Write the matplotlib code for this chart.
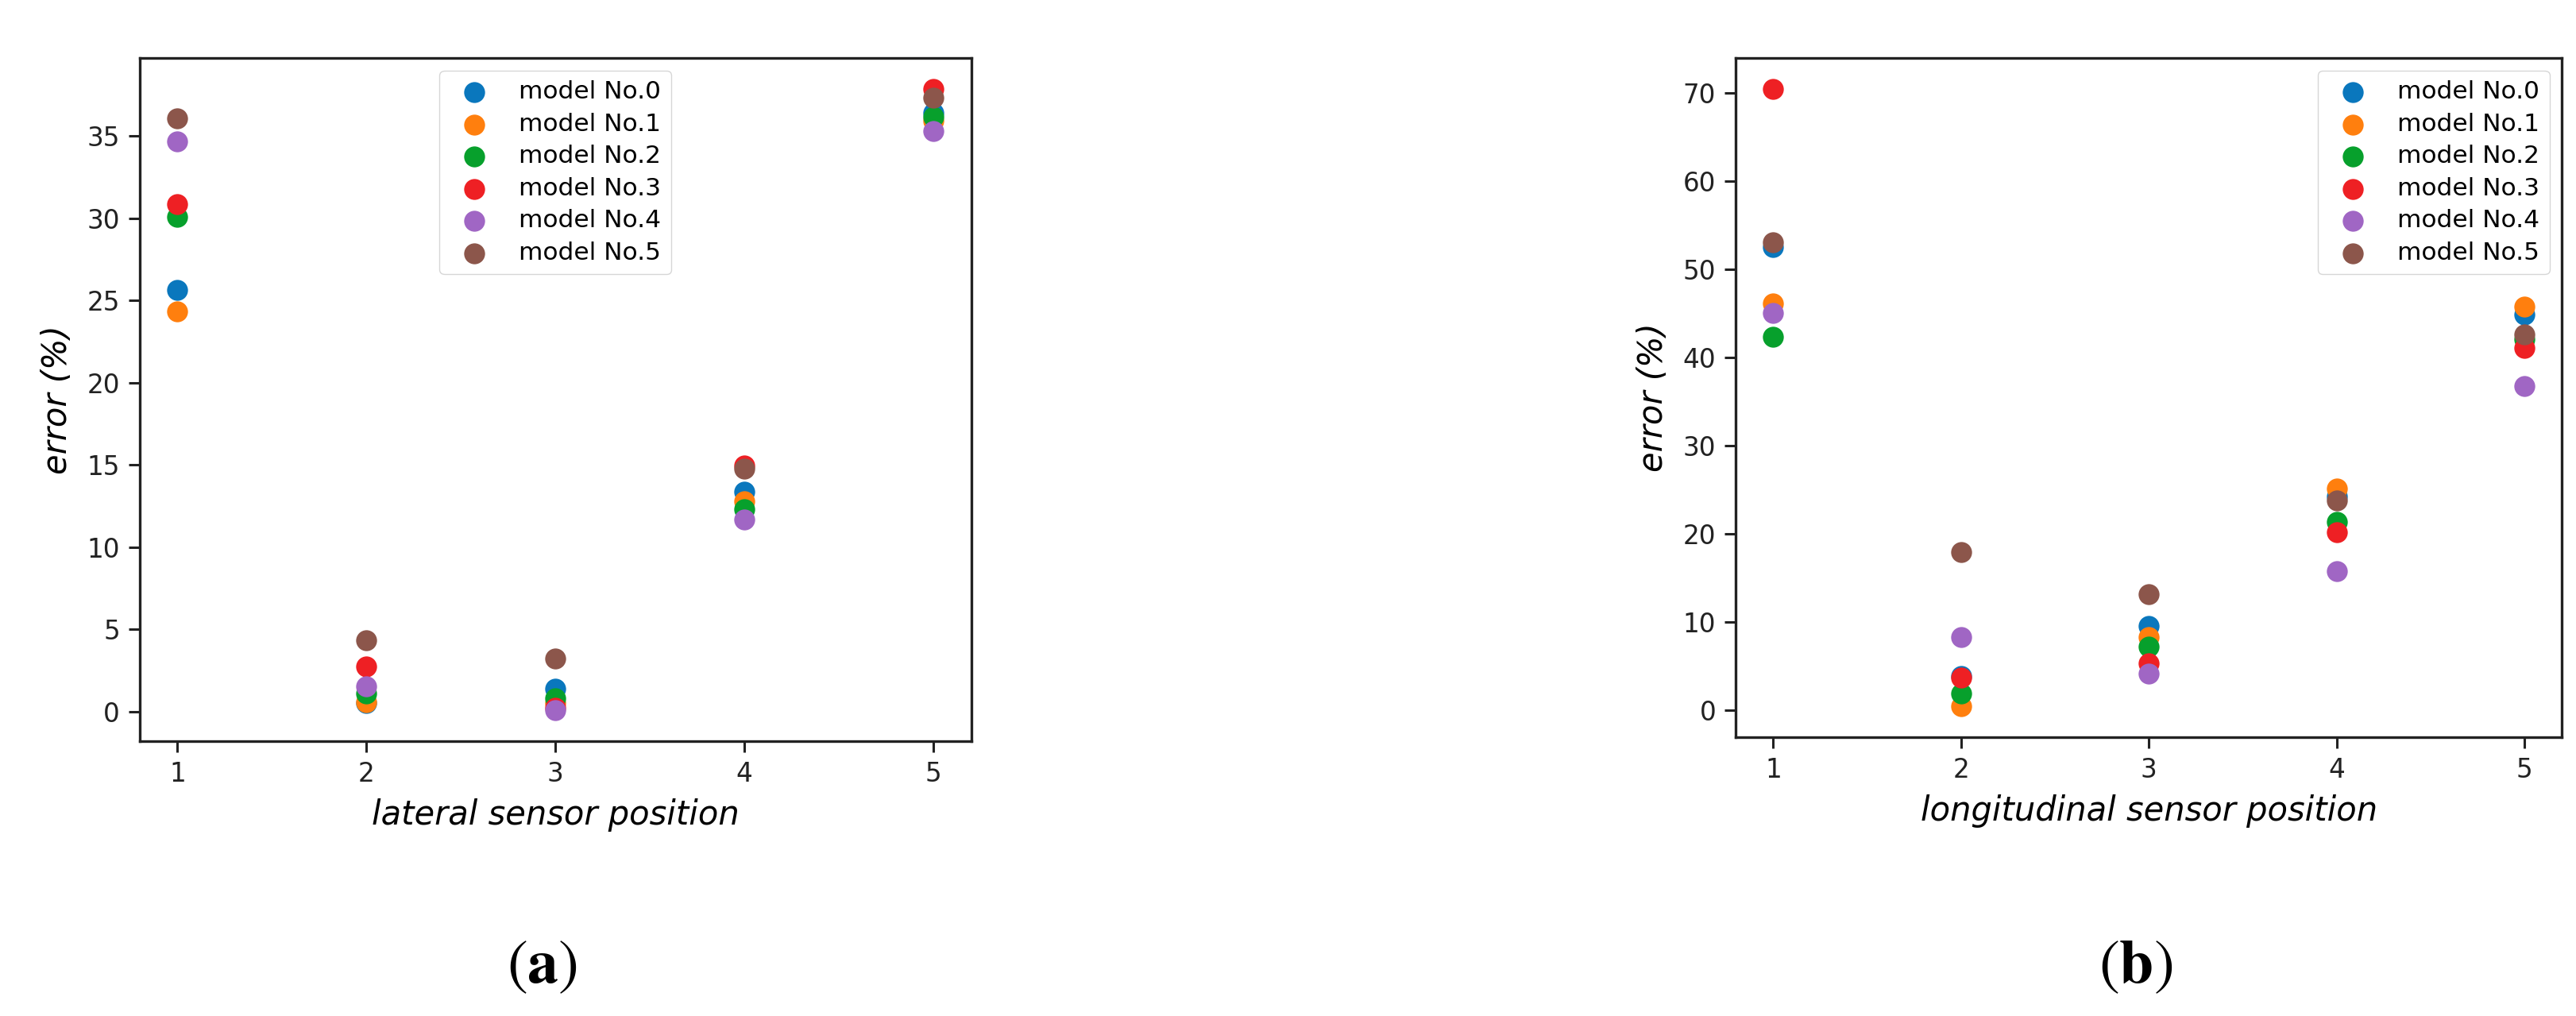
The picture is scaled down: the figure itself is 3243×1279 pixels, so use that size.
import matplotlib
matplotlib.use("Agg")
import matplotlib.pyplot as plt

positions = [1, 2, 3, 4, 5]
models = ["model No.0", "model No.1", "model No.2", "model No.3", "model No.4", "model No.5"]
colors = ["#0a77bd", "#ff7f0e", "#07a02c", "#ee2024", "#a066c4", "#8c564b"]

# (a) lateral sensor position errors (%)
lateral_m0 = [25.65, 0.5, 1.36, 13.37, 36.43]
lateral_m1 = [24.35, 0.55, 0.5, 12.81, 35.95]
lateral_m2 = [30.09, 1.1, 0.80, 12.33, 36.2]
lateral_m3 = [30.87, 2.74, 0.2, 14.97, 37.87]
lateral_m4 = [34.7, 1.51, 0.08, 11.66, 35.3]
lateral_m5 = [36.09, 4.33, 3.24, 14.76, 37.34]

# (b) longitudinal sensor position errors (%)
longit_m0 = [52.6, 3.9, 9.59, 24.3, 44.9]
longit_m1 = [46.2, 0.5, 8.33, 25.14, 45.8]
longit_m2 = [42.4, 1.9, 7.25, 21.4, 42.1]
longit_m3 = [70.5, 3.7, 5.34, 20.2, 41.16]
longit_m4 = [45.1, 8.3, 4.14, 15.8, 36.8]
longit_m5 = [53.1, 18.0, 13.18, 23.8, 42.65]

lateral = [lateral_m0, lateral_m1, lateral_m2, lateral_m3, lateral_m4, lateral_m5]
longit = [longit_m0, longit_m1, longit_m2, longit_m3, longit_m4, longit_m5]

plt.rcParams["font.family"] = ["DejaVu Sans"]

fig = plt.figure(figsize=(32.43, 12.79), dpi=100)
axa = fig.add_axes([0.0542, 0.2705, 0.3228, 0.6724])
axb = fig.add_axes([0.6738, 0.2747, 0.3207, 0.6682])

TICK_FS = 23.5
LABEL_FS = 30

def style(ax, xlabel, legend_loc):
    for sp in ax.spines.values():
        sp.set_linewidth(2.4)
        sp.set_color("#222222")
    ax.set_xticks(positions)
    ax.tick_params(axis="both", labelsize=TICK_FS, length=10, width=2.2, pad=8, colors="#222222")
    ax.set_xlabel(xlabel, fontsize=LABEL_FS, style="italic", labelpad=10)
    ax.set_ylabel("error (%)", fontsize=LABEL_FS, style="italic", labelpad=12)
    ax.legend(loc=legend_loc, fontsize=22.5, labelspacing=0.37, borderaxespad=0.5,
              framealpha=0.8, edgecolor="#cccccc")

for vals, c, lab in zip(lateral, colors, models):
    axa.scatter(positions, vals, s=360, color=c, label=lab, linewidths=0)
for vals, c, lab in zip(longit, colors, models):
    axb.scatter(positions, vals, s=360, color=c, label=lab, linewidths=0)

style(axa, "lateral sensor position", "upper center")
style(axb, "longitudinal sensor position", "upper right")

fig.text(0.2103, 0.05, r"$\mathrm{(}\mathbf{a}\mathrm{)}$", fontsize=56,
         math_fontfamily="stix", ha="center", va="center")
fig.text(0.8292, 0.05, r"$\mathrm{(}\mathbf{b}\mathrm{)}$", fontsize=56,
         math_fontfamily="stix", ha="center", va="center")

fig.savefig("out.png", dpi=100, facecolor="white")
